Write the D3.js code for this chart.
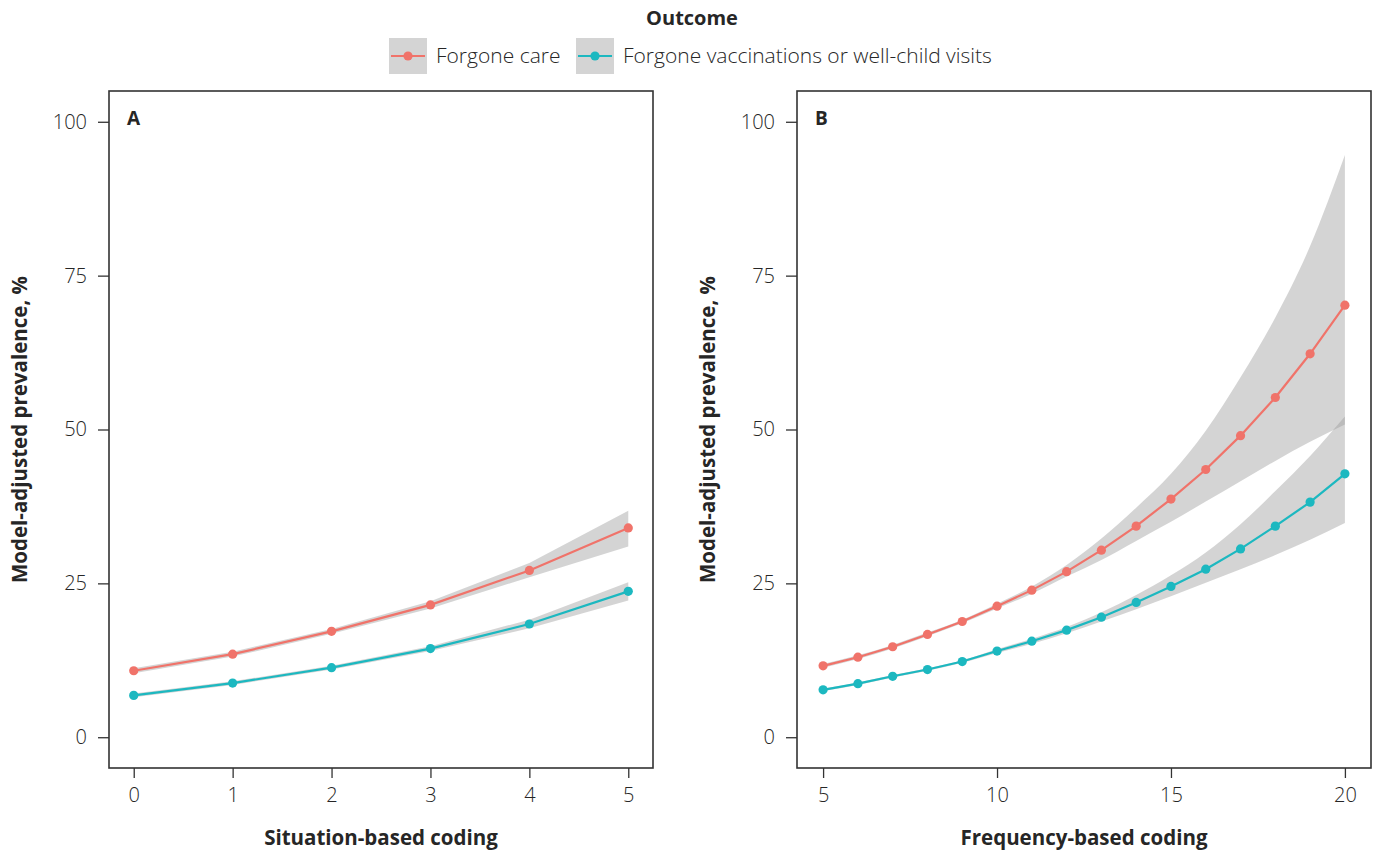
<!DOCTYPE html>
<html>
<head>
<meta charset="utf-8">
<script src="https://cdn.jsdelivr.net/npm/d3@7"></script>
<style>
body { margin: 0; background: #fff; }
svg text { font-family: "Open Sans", "Noto Sans", sans-serif; fill: #262626; }
</style>
</head>
<body>
<svg id="chart" width="1374" height="850"></svg>
<script>
// Panel A: situation-based coding
const xA = [0, 1, 2, 3, 4, 5];
const careA = [10.8, 13.5, 17.2, 21.5, 27.1, 34.0];
const careALo = [10.4, 13.1, 16.8, 20.9, 26.0, 31.0];
const careAHi = [11.2, 13.9, 17.6, 22.1, 28.3, 36.8];
const vaccA = [6.8, 8.8, 11.3, 14.4, 18.4, 23.7];
const vaccALo = [6.5, 8.5, 11.0, 14.0, 17.7, 22.2];
const vaccAHi = [7.1, 9.1, 11.6, 14.8, 19.1, 25.2];

// Panel B: frequency-based coding
const xB = [5, 6, 7, 8, 9, 10, 11, 12, 13, 14, 15, 16, 17, 18, 19, 20];
const careB = [11.6, 13.0, 14.7, 16.7, 18.8, 21.3, 23.9, 26.9, 30.4, 34.3, 38.7, 43.5, 49.0, 55.2, 62.3, 70.2];
const careBLo = [11.3, 12.7, 14.4, 16.4, 18.5, 20.9, 23.3, 26.1, 28.8, 31.9, 35.0, 38.3, 41.6, 44.9, 48.0, 50.8];
const careBHi = [11.9, 13.3, 15.0, 17.0, 19.1, 21.7, 24.5, 28.0, 32.3, 37.3, 42.8, 49.8, 58.5, 68.2, 79.8, 94.6];
const vaccB = [7.7, 8.7, 9.9, 11.0, 12.3, 14.0, 15.6, 17.4, 19.5, 21.9, 24.5, 27.3, 30.6, 34.3, 38.2, 42.8];
const vaccBLo = [7.5, 8.5, 9.7, 10.8, 12.1, 13.7, 15.2, 16.9, 18.8, 20.8, 22.9, 25.1, 27.3, 29.6, 32.1, 34.8];
const vaccBHi = [7.9, 8.9, 10.1, 11.2, 12.5, 14.3, 16.0, 17.9, 20.3, 23.1, 26.3, 30.0, 34.6, 40.0, 45.7, 52.1];

const yTicks = [0, 25, 50, 75, 100];
const outcomes = ["Forgone care", "Forgone vaccinations or well-child visits"];
const colors = ["#F0736A", "#1CB8C0"];

const svg = d3.select("#chart");

const y = d3.scaleLinear().domain([-5, 105]).range([768, 91]);

function drawPanel(opts) {
	let x = d3.scaleLinear().domain(opts.xDomain).range(opts.xRange);
	let g = svg.append("g");

	let series = [
		{ mid: opts.care, lo: opts.careLo, hi: opts.careHi, color: colors[0] },
		{ mid: opts.vacc, lo: opts.vaccLo, hi: opts.vaccHi, color: colors[1] }
	];

	let area = d3.area()
	.x(d => x(d.x))
	.y0(d => y(d.lo))
	.y1(d => y(d.hi))
	.curve(opts.smooth ? d3.curveMonotoneX : d3.curveLinear);

	// ribbons first
	series.forEach(s => {
		let pts = opts.xs.map((v, i) => ({ x: v, lo: s.lo[i], hi: s.hi[i] }));
		g.append("path")
		.attr("d", area(pts))
		.attr("fill", "#999")
		.attr("fill-opacity", 0.42);
	});

	let line = d3.line()
	.x(d => x(d.x))
	.y(d => y(d.y));

	series.forEach(s => {
		let pts = opts.xs.map((v, i) => ({ x: v, y: s.mid[i] }));
		g.append("path")
		.attr("d", line(pts))
		.attr("fill", "none")
		.attr("stroke", s.color)
		.attr("stroke-width", 2.2);

		g.selectAll(null)
		.data(pts)
		.join("circle")
		.attr("cx", d => x(d.x))
		.attr("cy", d => y(d.y))
		.attr("r", 4.6)
		.attr("fill", s.color);
	});

	// frame
	g.append("rect")
	.attr("x", opts.xRange[0])
	.attr("y", 91)
	.attr("width", opts.xRange[1] - opts.xRange[0])
	.attr("height", 768 - 91)
	.attr("fill", "none")
	.attr("stroke", "#333")
	.attr("stroke-width", 1.6);

	let xAxis = g.append("g")
	.attr("transform", "translate(0,768)")
	.call(d3.axisBottom(x).tickValues(opts.xTicks).tickSize(10).tickPadding(10).tickFormat(d3.format("d")));

	let yAxis = g.append("g")
	.attr("transform", `translate(${opts.xRange[0]},0)`)
	.call(d3.axisLeft(y).tickValues(yTicks).tickSize(11).tickPadding(11));

	[xAxis, yAxis].forEach(a => {
		a.select(".domain").remove();
		a.selectAll(".tick line").attr("stroke", "#333").attr("stroke-width", 1.3);
		a.selectAll(".tick text")
		.style("font-family", "'Open Sans', sans-serif")
		.style("font-size", "20px")
		.style("font-weight", 300)
		.attr("fill", "#333");
	});

	// panel letter
	g.append("text")
	.attr("x", opts.xRange[0] + 18)
	.attr("y", 125)
	.style("font-size", "19px")
	.style("font-weight", 700)
	.text(opts.letter);

	// axis titles
	g.append("text")
	.attr("x", (opts.xRange[0] + opts.xRange[1]) / 2)
	.attr("y", 845)
	.style("text-anchor", "middle")
	.style("font-size", "20.5px")
	.style("font-weight", 700)
	.text(opts.xTitle);

	g.append("text")
	.attr("transform", `translate(${opts.xRange[0] - 82},${y(50)}) rotate(-90)`)
	.style("text-anchor", "middle")
	.style("font-size", "20.5px")
	.style("font-weight", 700)
	.text("Model-adjusted prevalence, %");
}

drawPanel({
	letter: "A",
	xs: xA, care: careA, careLo: careALo, careHi: careAHi,
	vacc: vaccA, vaccLo: vaccALo, vaccHi: vaccAHi,
	xDomain: [-0.25, 5.25], xRange: [109, 653],
	xTicks: xA,
	smooth: false,
	xTitle: "Situation-based coding"
});

drawPanel({
	letter: "B",
	xs: xB, care: careB, careLo: careBLo, careHi: careBHi,
	vacc: vaccB, vaccLo: vaccBLo, vaccHi: vaccBHi,
	xDomain: [4.25, 20.75], xRange: [797, 1371],
	xTicks: [5, 10, 15, 20],
	smooth: true,
	xTitle: "Frequency-based coding"
});

// legend
let legend = svg.append("g");

legend.append("text")
.attr("x", 692)
.attr("y", 25)
.style("text-anchor", "middle")
.style("font-size", "20px")
.style("font-weight", 700)
.text("Outcome");

let keyX = [389, 576];
outcomes.forEach((name, i) => {
	let k = legend.append("g").attr("transform", `translate(${keyX[i]},38)`);
	k.append("rect")
	.attr("width", 38)
	.attr("height", 36)
	.attr("fill", "#999")
	.attr("fill-opacity", 0.42);
	k.append("line")
	.attr("x1", 2).attr("x2", 36)
	.attr("y1", 18).attr("y2", 18)
	.attr("stroke", colors[i])
	.attr("stroke-width", 2.2);
	k.append("circle")
	.attr("cx", 19).attr("cy", 18).attr("r", 4.6)
	.attr("fill", colors[i]);
	k.append("text")
	.attr("x", 47)
	.attr("y", 25)
	.style("font-size", "21px")
	.style("font-weight", 300)
	.text(name);
});
</script>
</body>
</html>
